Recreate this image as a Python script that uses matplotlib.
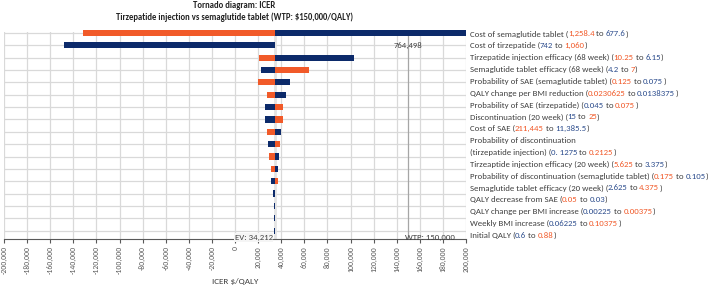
import numpy as np
import matplotlib
matplotlib.use('Agg')
import matplotlib.pyplot as plt
from matplotlib.ticker import FuncFormatter, MultipleLocator
from matplotlib.font_manager import FontProperties

plt.rcParams['font.family'] = ['Carlito', 'Fira Sans', 'Source Sans 3',
                               'Liberation Sans', 'DejaVu Sans']

# Parameters, top to bottom
params = [
    'Cost of semaglutide tablet',
    'Cost of tirzepatide',
    'Tirzepatide injection efficacy (68 week)',
    'Semaglutide tablet efficacy (68 week)',
    'Probability of SAE (semaglutide tablet)',
    'QALY change per BMI reduction',
    'Probability of SAE (tirzepatide)',
    'Discontinuation (20 week)',
    'Cost of SAE',
    'Probability of discontinuation\n(tirzepatide injection)',
    'Tirzeaptide injection efficacy (20 week)',
    'Probability of discontinuation (semaglutide tablet)',
    'Semaglutide tablet efficacy (20 week)',
    'QALY decrease from SAE',
    'QALY change per BMI increase',
    'Weekly BMI increase',
    'Initial QALY',
]
# parameter range as written in the labels (first value, second value)
first_val = ['1,258.4', '742', '10.25', '4.2', '0.125', '0.0230625', '0.045', '15',
             '211,445', '0. 1275', '5.625', '0.175', '2.625', '0.05', '0.00225',
             '0.06225', '0.6']
second_val = ['677.6', '1,060', '6.15', '7', '0.075', '0.0138375', '0.075', '25',
              '11,385.5', '0.2125', '3.375', '0.105', '4.375', '0.03', '0.00375',
              '0.10375', '0.88']
# which end the first value belongs to: 'o' = orange, 'b' = blue
first_is = ['o', 'b', 'o', 'b', 'o', 'o', 'b', 'b', 'o', 'b', 'o', 'o', 'b', 'o',
            'b', 'b', 'b']

# ICER at the orange and the blue end of each range
icer_orange = [-131600, 34212, 20600, 64200, 20300, 27300, 41700, 41200, 27600,
               38600, 29600, 31000, 37100, 34300, 35000, 35000, 34300]
icer_blue = [764498, -147800, 103000, 22900, 47800, 44200, 25800, 26400, 39700,
             28700, 38300, 36900, 31000, 33300, 33900, 33900, 34100]

ev = 34212
wtp = 150000
offscale_label = '764,498'

ORANGE = '#F15A29'
NAVY = '#0C2A6A'
TXT_O = '#F15A29'
TXT_B = '#2E4E8E'
GREY_TXT = '#404040'

W, H = 714, 288
fig = plt.figure(figsize=(W / 100, H / 100), dpi=100)
ax = fig.add_axes([4 / W, 1 - 239.3 / H, 462 / W, 207 / H])
renderer = fig.canvas.get_renderer()


def width_px(s, fs, weight='normal'):
    # advance width: sandwich the string between two bars
    prop = FontProperties(family=plt.rcParams['font.family'], size=fs, weight=weight)
    w1 = renderer.get_text_width_height_descent('|' + s + '|', prop, ismath=False)[0]
    w0 = renderer.get_text_width_height_descent('||', prop, ismath=False)[0]
    return w1 - w0


# font sizes chosen so the texts take the widths they take in the reference
FS = 7.0 * 242 / width_px(
    'Probability of discontinuation (semaglutide tablet) (0.175 to 0.105)', 7.0)
TICK_FS = 7.0 * 28 / width_px('-200,000', 7.0)
TITLE_FS = 7.0 * 239 / width_px(
    'Tirzepatide injection vs semaglutide tablet (WTP: $150,000/QALY)', 7.0, 'bold')
XLAB_FS = 7.0 * 46.5 / width_px('ICER $/QALY', 7.0)

y = np.arange(len(params))
xmin, xmax = -200000, 200000
o = np.clip(icer_orange, xmin, xmax)
b = np.clip(icer_blue, xmin, xmax)
ax.barh(y, o - ev, left=ev, height=0.5, color=ORANGE, clip_on=False, zorder=3)
ax.barh(y, b - ev, left=ev, height=0.5, color=NAVY, clip_on=False, zorder=3)

ax.set_xlim(xmin, xmax)
ax.set_ylim(16.7, -0.05)
ax.xaxis.set_major_locator(MultipleLocator(20000))
ax.xaxis.set_major_formatter(FuncFormatter(lambda v, p: f'{v:,.0f}'))
ax.set_yticks(y)
ax.tick_params(axis='y', length=0, labelleft=False)
ax.tick_params(axis='x', labelsize=TICK_FS, labelrotation=90, colors='#595959',
               length=3, width=0.8, pad=2)
ax.grid(True, color='#d9d9d9', linewidth=0.9, zorder=0)
ax.set_axisbelow(True)
for s in ['top', 'right', 'left']:
    ax.spines[s].set_visible(False)
ax.spines['bottom'].set_color('#595959')

ax.axvline(ev, color='#e4e4e4', linewidth=2, zorder=1)
ax.axvline(wtp, color='#a6a6a6', linewidth=0.9, zorder=1)
ax.text(ev - 1500, 16.55, f'EV: {ev:,}', ha='right', va='center', fontsize=FS,
        color=GREY_TXT, bbox=dict(facecolor='#f5f5f5', edgecolor='none', pad=0.5))
ax.text(wtp - 3000, 16.55, f'WTP: {wtp:,}', ha='left', va='center', fontsize=FS,
        color=GREY_TXT)
ax.text(wtp, 1, offscale_label, ha='center', va='center', fontsize=FS,
        color=GREY_TXT)

# titles
fig.text(234 / W, 1 - 6 / H, 'Tornado diagram: ICER', ha='center', va='center',
         fontsize=TITLE_FS, fontweight='bold', color='#222222')
fig.text(234 / W, 1 - 17 / H,
         r'Tirzepatide injection vs semaglutide tablet (WTP: \$150,000/QALY)',
         ha='center', va='center', fontsize=TITLE_FS, fontweight='bold',
         color='#222222')
fig.text(235 / W, 1 - 281.5 / H, r'ICER \$/QALY', ha='center', va='center',
         fontsize=XLAB_FS, color=GREY_TXT)


def draw_line(segs, y_px, x0=469.5):
    yb = 1 - (y_px + 0.33 * FS * 100 / 72) / H
    full = ''
    for txt, col in segs:
        x = x0 + width_px(full, FS)
        fig.text(x / W, yb, txt, color=col, fontsize=FS, ha='left', va='baseline')
        full += txt


lines = []
for name, a, c, f in zip(params, first_val, second_val, first_is):
    parts = name.split('\n')
    for extra in parts[:-1]:
        lines.append([(extra, GREY_TXT)])
    ca, cb = (TXT_O, TXT_B) if f == 'o' else (TXT_B, TXT_O)
    lines.append([(parts[-1] + ' (', GREY_TXT), (a, ca), (' to ', GREY_TXT),
                  (c, cb), (')', GREY_TXT)])

top_px, bot_px = 33.5, 235
step = (bot_px - top_px) / (len(lines) - 1)
for j, segs in enumerate(lines):
    draw_line(segs, top_px + j * step)

fig.savefig('out.png', dpi=100)
